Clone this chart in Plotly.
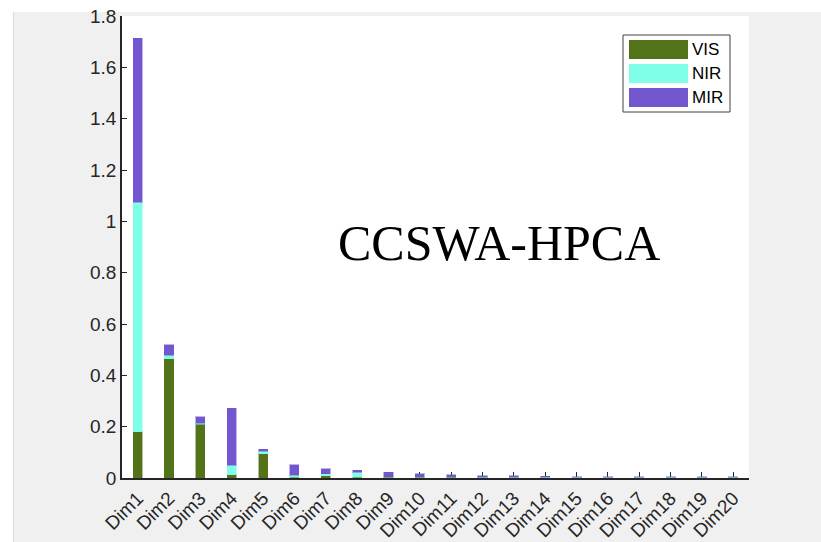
import plotly.graph_objects as go

# Contribution of each spectral region to the first 20 principal dimensions
dims = [f"Dim{i}" for i in range(1, 21)]
vis = [0.181, 0.465, 0.209, 0.013, 0.095, 0.003, 0.009, 0.003, 0.002, 0.002,
       0.002, 0.001, 0.001, 0.001, 0.001, 0.0005, 0.0005, 0.0005, 0.0005, 0.0005]
nir = [0.894, 0.014, 0.004, 0.037, 0.009, 0.007, 0.008, 0.019, 0.003, 0.002,
       0.002, 0.001, 0.001, 0.002, 0.002, 0.002, 0.002, 0.002, 0.002, 0.002]
mir = [0.639, 0.041, 0.025, 0.221, 0.009, 0.042, 0.019, 0.009, 0.017, 0.012,
       0.009, 0.006, 0.006, 0.003, 0.002, 0.002, 0.002, 0.002, 0.002, 0.002]

series = [("VIS", vis, "#52731a", "rgba(82,115,26,0.45)"),
          ("NIR", nir, "#80ffe8", "rgba(128,255,232,0.45)"),
          ("MIR", mir, "#7257cf", "rgba(114,87,207,0.45)")]

y_ticks = [0, 0.2, 0.4, 0.6, 0.8, 1.0, 1.2, 1.4, 1.6, 1.8]
y_labels = ["0", "0.2", "0.4", "0.6", "0.8", "1", "1.2", "1.4", "1.6", "1.8"]

W, H = 821, 542
L, R, T, B = 122, 72, 16, 64
pw, ph = W - L - R, H - T - B


def px(x):
    return (x - L) / pw


def py(y):
    return (H - B - y) / ph


fig = go.Figure()
for name, vals, color, edge in series:
    fig.add_trace(go.Bar(
        x=dims, y=vals, name=name,
        marker=dict(color=color, line=dict(color=edge, width=1)),
        showlegend=False,
    ))

shapes = [
    # white strips framing the grey figure area
    dict(type="rect", xref="paper", yref="paper", x0=px(0), x1=px(13),
         y0=py(H), y1=py(0), fillcolor="white", line_width=0, layer="below"),
    dict(type="rect", xref="paper", yref="paper", x0=px(0), x1=px(W),
         y0=py(12), y1=py(0), fillcolor="white", line_width=0, layer="below"),
    dict(type="line", xref="paper", yref="paper", x0=px(13.5), x1=px(13.5),
         y0=py(H), y1=py(12), line=dict(color="#dcdcdc", width=1)),
    # legend box
    dict(type="rect", xref="paper", yref="paper", x0=px(623), x1=px(730),
         y0=py(112), y1=py(35), fillcolor="white",
         line=dict(color="#404040", width=1)),
]
annotations = []
rows = [(40, 59), (64, 83), (88, 107)]
for (name, _, color, _), (top, bot) in zip(series, rows):
    shapes.append(dict(type="rect", xref="paper", yref="paper",
                       x0=px(629), x1=px(688), y0=py(bot), y1=py(top),
                       fillcolor=color, line_width=0))
    annotations.append(dict(xref="paper", yref="paper", x=px(690),
                            y=py((top + bot) / 2), text=name, showarrow=False,
                            xanchor="left", yanchor="middle",
                            font=dict(family="Liberation Sans, Arial", size=17,
                                      color="black")))

annotations.append(dict(xref="paper", yref="paper", x=px(499), y=py(243),
                        text="CCSWA-HPCA", showarrow=False,
                        xanchor="center", yanchor="middle",
                        font=dict(family="Liberation Serif, Times New Roman",
                                  size=50, color="black")))

fig.update_layout(
    width=W, height=H,
    margin=dict(l=L, r=R, t=T, b=B, pad=0, autoexpand=False),
    barmode="stack", bargap=0.71,
    paper_bgcolor="#f0f0f0", plot_bgcolor="white",
    font=dict(family="Liberation Sans, Arial", size=19, color="#262626"),
    shapes=shapes, annotations=annotations,
    xaxis=dict(
        range=[-0.5, 19.5], tickangle=-45, ticks="inside", ticklen=6,
        tickcolor="#262626", tickwidth=1, showline=True, linecolor="#262626",
        linewidth=1.5, showgrid=False, zeroline=False, automargin=False,
        layer="below traces", tickfont=dict(size=19, color="#262626"),
    ),
    yaxis=dict(
        range=[0, 1.8], tickvals=y_ticks, ticktext=y_labels, ticks="inside",
        ticklen=5, tickcolor="#262626", tickwidth=1, showline=True,
        linecolor="#262626", linewidth=1.5, showgrid=False, zeroline=False,
        automargin=False, tickfont=dict(size=19, color="#262626"),
    ),
)

fig.write_html("out.html")
